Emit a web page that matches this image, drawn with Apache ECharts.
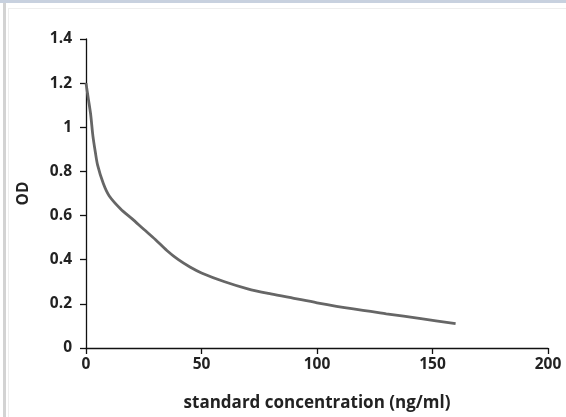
<!DOCTYPE html>
<html>
<head>
<meta charset="utf-8">
<script src="https://cdn.jsdelivr.net/npm/echarts@6/dist/echarts.min.js"></script>
<style>
html,body{margin:0;padding:0;background:#fff;}
#wrap{position:relative;width:566px;height:417px;overflow:hidden;background:#fff;}
#topbar{position:absolute;left:0;top:0;width:566px;height:3px;background:#c8d1df;}
#leftbar{position:absolute;left:3px;top:3px;width:3px;height:414px;background:#d3d3d3;}
#innerline{position:absolute;left:8px;top:8px;width:558px;height:409px;border-left:1px solid #eeeeee;border-top:1px solid #eeeeee;}
#chart{position:absolute;left:0;top:0;width:566px;height:417px;}
</style>
</head>
<body>
<div id="wrap">
<div id="topbar"></div>
<div id="leftbar"></div>
<div id="innerline"></div>
<div id="chart"></div>
</div>
<script>
const concentration = [0, 1, 2, 3, 4, 5, 7.5, 10, 15, 20, 25, 30, 35, 40, 45, 50, 60, 70, 80, 90, 100, 115, 130, 145, 160];
const od = [1.2, 1.13, 1.06, 0.96, 0.89, 0.83, 0.745, 0.69, 0.63, 0.585, 0.538, 0.492, 0.442, 0.40, 0.367, 0.34, 0.30, 0.268, 0.245, 0.225, 0.205, 0.178, 0.155, 0.133, 0.11];
const xTicks = [0, 50, 100, 150, 200];
const yTicks = [0, 0.2, 0.4, 0.6, 0.8, 1, 1.2, 1.4];
const xName = 'standard concentration (ng/ml)';
const yName = 'OD';

const font = '"Open Sans", "DejaVu Sans", sans-serif';
const chart = echarts.init(document.getElementById('chart'), null, {renderer: 'canvas'});
chart.setOption({
  animation: false,
  grid: {left: 86, right: 18, top: 39, bottom: 64, containLabel: false},
  xAxis: {
    type: 'value',
    min: xTicks[0], max: xTicks[xTicks.length - 1], interval: 50,
    name: xName, nameLocation: 'middle', nameGap: 47,
    nameTextStyle: {fontFamily: font, fontWeight: 'bold', fontSize: 17, color: '#222'},
    axisLine: {show: true, lineStyle: {color: '#111', width: 1.3}},
    axisTick: {show: true, inside: false, length: 6, lineStyle: {color: '#111', width: 1.3}},
    axisLabel: {fontFamily: font, fontWeight: 'bold', fontSize: 15.5, color: '#222', margin: 9},
    splitLine: {show: false}
  },
  yAxis: {
    type: 'value',
    min: yTicks[0], max: yTicks[yTicks.length - 1], interval: 0.2,
    name: yName, nameLocation: 'middle', nameGap: 54, nameRotate: 90,
    nameTextStyle: {fontFamily: font, fontWeight: 'bold', fontSize: 15.5, color: '#222'},
    axisLine: {show: true, lineStyle: {color: '#111', width: 1.3}},
    axisTick: {show: true, inside: false, length: 6, lineStyle: {color: '#111', width: 1.3}},
    axisLabel: {fontFamily: font, fontWeight: 'bold', fontSize: 15.5, color: '#222', margin: 14,
      formatter: v => String(Math.round(v * 10) / 10)},
    splitLine: {show: false}
  },
  series: [{
    type: 'line',
    data: concentration.map((c, i) => [c, od[i]]),
    smooth: 0.3,
    showSymbol: false,
    symbol: 'none',
    lineStyle: {color: '#666666', width: 2.8}
  }]
});
</script>
</body>
</html>
